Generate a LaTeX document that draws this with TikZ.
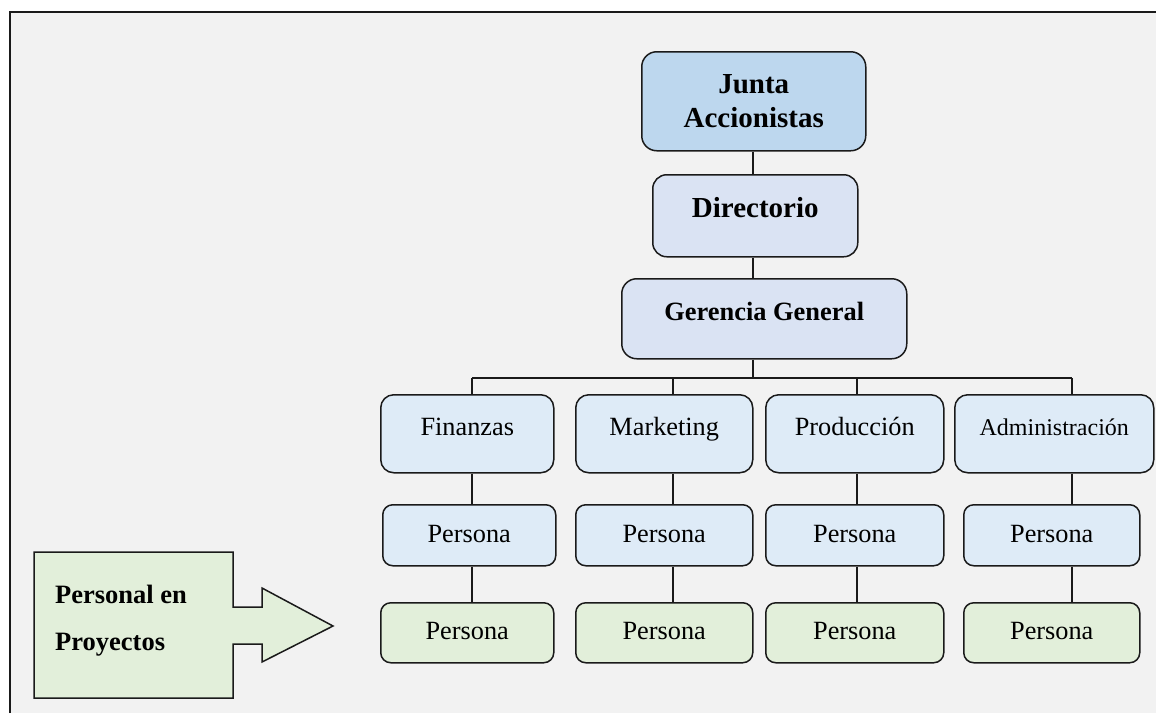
\documentclass[tikz,border=0pt]{standalone}
\usepackage{fontspec}
\setmainfont{Liberation Serif}
\definecolor{bgcol}{HTML}{F2F2F2}
\definecolor{ink}{HTML}{1A1A1A}
\definecolor{juntafill}{HTML}{BDD7EE}
\definecolor{dirfill}{HTML}{DAE3F3}
\definecolor{areafill}{HTML}{DEEBF7}
\definecolor{projfill}{HTML}{E2EFDA}
\begin{document}
\begin{tikzpicture}[x=1pt,y=-1pt,
  box/.style={draw=ink, line width=1.5pt, rounded corners=#1, inner sep=0pt,
              anchor=north west, align=center},
  topfont/.style={font=\bfseries\fontsize{29}{34}\selectfont},
  midfont/.style={font=\bfseries\fontsize{26.4}{31}\selectfont},
  areafont/.style={font=\fontsize{26.3}{31}\selectfont},
  area/.style={box=13pt, fill=areafill, minimum height=78, areafont,
               text height=18pt, text depth=14pt},
  persona/.style={box=10pt, minimum height=61, areafont,
                  text height=17pt, text depth=3pt},
  link/.style={draw=ink, line width=1.5pt}]
\useasboundingbox (0,0) rectangle (1156,713);
% page and frame
\fill[bgcol] (10,12) rectangle (1156,713);
\draw[ink, line width=2pt] (10,713) -- (10,12) -- (1156,12);

% column positions of the connectors
\coordinate (c0) at (753,0);
\coordinate (c1) at (472,0);
\coordinate (c2) at (673,0);
\coordinate (c3) at (857,0);
\coordinate (c4) at (1072,0);
\coordinate (bus) at (0,378);

% top of the hierarchy
\node[box=15pt, fill=juntafill, minimum width=224, minimum height=99, topfont]
  (junta) at (641,51) {Junta\\Accionistas};
\node[box=14pt, fill=dirfill, minimum width=205, minimum height=82, topfont,
      text height=20pt, text depth=16pt]
  (dir) at (652,174) {Directorio};
\node[box=15pt, fill=dirfill, minimum width=285, minimum height=80, midfont,
      text height=18pt, text depth=14pt]
  (ger) at (621,278) {Gerencia General};

% areas
\node[area, minimum width=173] (fin) at (380,394) {Finanzas};
\node[area, minimum width=177] (mkt) at (575,394) {Marketing};
\node[area, minimum width=178] (prod) at (765,394) {Producción};
\node[area, minimum width=199, font=\fontsize{24}{29}\selectfont] (adm) at (954,394) {Administración};

% staff
\node[persona, fill=areafill, minimum width=173] (p1) at (382,504) {Persona};
\node[persona, fill=areafill, minimum width=177] (p2) at (575,504) {Persona};
\node[persona, fill=areafill, minimum width=178] (p3) at (765,504) {Persona};
\node[persona, fill=areafill, minimum width=176] (p4) at (963,504) {Persona};

% project staff
\node[persona, fill=projfill, minimum width=173, minimum height=60] (q1) at (380,602) {Persona};
\node[persona, fill=projfill, minimum width=177, minimum height=60] (q2) at (575,602) {Persona};
\node[persona, fill=projfill, minimum width=178, minimum height=60] (q3) at (765,602) {Persona};
\node[persona, fill=projfill, minimum width=176, minimum height=60] (q4) at (963,602) {Persona};

% connectors
\draw[link] (junta.south -| c0) -- (dir.north -| c0);
\draw[link] (dir.south -| c0) -- (ger.north -| c0);
\draw[link] (ger.south -| c0) -- (bus -| c0);
\draw[link] (bus -| c1) -- (bus -| c4);
\draw[link] (bus -| c1) -- (fin.north -| c1);
\draw[link] (bus -| c2) -- (mkt.north -| c2);
\draw[link] (bus -| c3) -- (prod.north -| c3);
\draw[link] (bus -| c4) -- (adm.north -| c4);
\draw[link] (fin.south -| c1) -- (p1.north -| c1);
\draw[link] (mkt.south -| c2) -- (p2.north -| c2);
\draw[link] (prod.south -| c3) -- (p3.north -| c3);
\draw[link] (adm.south -| c4) -- (p4.north -| c4);
\draw[link] (p1.south -| c1) -- (q1.north -| c1);
\draw[link] (p2.south -| c2) -- (q2.north -| c2);
\draw[link] (p3.south -| c3) -- (q3.north -| c3);
\draw[link] (p4.south -| c4) -- (q4.north -| c4);

% block arrow pointing at the project staff
\draw[ink, fill=projfill, line width=1.5pt, line join=miter]
  (34,552) -- (233,552) -- (233,607) -- (262,607) -- (262,588) -- (333,626)
  -- (262,662) -- (262,644) -- (233,644) -- (233,698) -- (34,698) -- cycle;
\node[anchor=west, inner sep=0pt, align=left,
      font=\bfseries\fontsize{26.5}{47}\selectfont]
  (proj) at (55,620.5) {Personal en\\Proyectos};
\end{tikzpicture}
\end{document}
